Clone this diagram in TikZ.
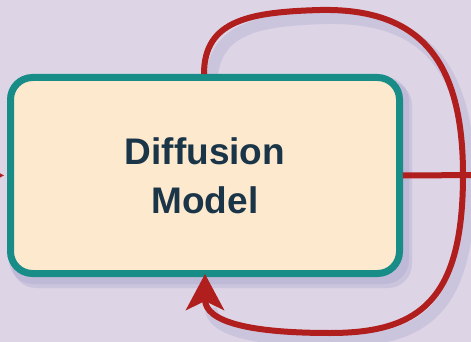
\documentclass[tikz,border=0pt]{standalone}
\usepackage{fontspec}
\setmainfont{Liberation Sans}
\usetikzlibrary{arrows.meta}
\definecolor{bgc}{RGB}{221,213,229}
\definecolor{boxfill}{RGB}{252,233,206}
\definecolor{teal2}{RGB}{24,140,134}
\definecolor{redc}{RGB}{176,30,30}
\definecolor{txtc}{RGB}{26,52,72}
\definecolor{shad}{RGB}{170,166,208}
\tikzset{
  mainbox/.style={draw=teal2, fill=boxfill, line width=7pt, rounded corners=22pt,
    minimum width=389pt, minimum height=196pt, inner sep=0pt, align=center,
    text=txtc, font=\fontsize{37}{49}\selectfont\bfseries},
  redline/.style={draw=redc, line width=6pt},
  redarrow/.style={redline, -{Stealth[length=36pt, width=38pt, inset=9pt]}},
  shadowline/.style={draw=shad, line width=12pt, opacity=0.35},
}
\begin{document}
\begin{tikzpicture}[x=1pt,y=-1pt]
\useasboundingbox (0,0) rectangle (471,342);
\clip (0,0) rectangle (471,342);
\fill[bgc] (0,0) rectangle (471,342);
% shadows
\begin{scope}[shift={(6,8)}]
  \fill[shad, opacity=0.35, rounded corners=24pt] (6,73) rectangle (406,280);
  \draw[shadowline] (205,80) .. controls (205,20) and (250,12) .. (320,10)
     .. controls (420,8) and (463,60) .. (463,175)
     .. controls (463,300) and (420,333) .. (330,333)
     .. controls (250,333) and (205,322) .. (205,300);
\end{scope}
\begin{scope}[shift={(3,4)}]
  \fill[shad, opacity=0.35, rounded corners=24pt] (6,73) rectangle (406,280);
\end{scope}
\node[mainbox] (box) at (205,175.5) {Diffusion\\Model};
\coordinate (leftin) at (-45,175);
\coordinate (rightout) at (480,175);
\coordinate (loopstart) at ([xshift=-1pt]box.north);
\draw[redarrow, shorten >=3pt] (leftin) -- (box.west);
\draw[redline] (box.east) -- (rightout);
\draw[redarrow, shorten >=-3pt] (loopstart) .. controls (204,20) and (250,12) .. (320,10)
   .. controls (420,8) and (463,60) .. (463,175)
   .. controls (463,300) and (420,333) .. (330,333)
   .. controls (250,333) and (205,322) .. (box.south);
\end{tikzpicture}
\end{document}
